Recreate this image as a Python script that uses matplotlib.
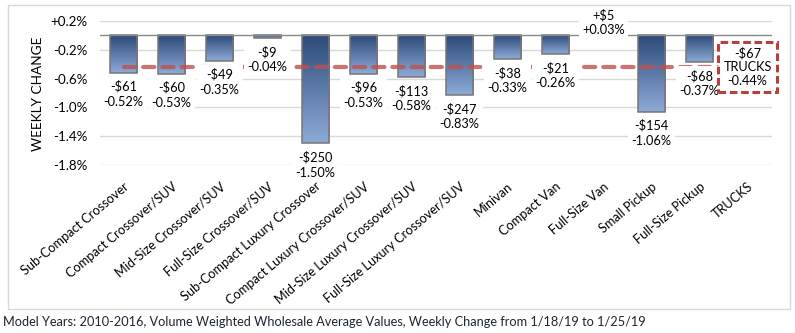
import matplotlib
matplotlib.use("Agg")
import matplotlib.pyplot as plt
from matplotlib.colors import LinearSegmentedColormap
from matplotlib.patches import Rectangle
import numpy as np

plt.rcParams['font.family'] = ['Lato', 'DejaVu Sans']

# segments (bars) and the truck average (dashed line / boxed label)
segments = ['Sub-Compact Crossover', 'Compact Crossover/SUV', 'Mid-Size Crossover/SUV',
            'Full-Size Crossover/SUV', 'Sub-Compact Luxury Crossover',
            'Compact Luxury Crossover/SUV', 'Mid-Size Luxury Crossover/SUV',
            'Full-Size Luxury Crossover/SUV', 'Minivan', 'Compact Van', 'Full-Size Van',
            'Small Pickup', 'Full-Size Pickup']
pct_change = [-0.52, -0.53, -0.35, -0.04, -1.50, -0.53, -0.58, -0.83, -0.33, -0.26, 0.03, -1.06, -0.37]
dollar_change = [-61, -60, -49, -9, -250, -96, -113, -247, -38, -21, 5, -154, -68]

total_label = 'TRUCKS'
total_pct = -0.44
total_dollar = -67

yticks = [0.2, -0.2, -0.6, -1.0, -1.4, -1.8]
ytick_labels = ['+0.2%', '-0.2%', '-0.6%', '-1.0%', '-1.4%', '-1.8%']

footer = ('Model Years: 2010-2016, Volume Weighted Wholesale Average Values, '
          'Weekly Change from 1/18/19 to 1/25/19')

categories = segments + [total_label]
W, H = 795, 333
fig = plt.figure(figsize=(W / 100, H / 100), dpi=100)

# light frame round the chart area
fig.patches.append(Rectangle((8 / W, 1 - 309 / H), 782 / W, 304 / H, transform=fig.transFigure,
                             fill=False, edgecolor='#d9d9d9', lw=1))

ax = fig.add_axes([99.5 / W, 1 - 165 / H, 672 / W, 144 / H])

cmap = LinearSegmentedColormap.from_list('blue', ['#2c4a79', '#8eabd8'])
grad = np.linspace(0, 1, 256).reshape(-1, 1)

x = np.arange(len(segments))
bars = ax.bar(x, pct_change, width=0.58, facecolor='none', edgecolor='#767676', lw=1.1, zorder=3)
for b, v in zip(bars, pct_change):
    x0 = b.get_x()
    im = ax.imshow(grad, cmap=cmap, aspect='auto', origin='upper', zorder=2,
                   extent=[x0, x0 + b.get_width(), min(v, 0), max(v, 0)])
    im.set_clip_path(b)

# trucks average line
ax.plot(np.arange(len(categories)), [total_pct] * len(categories), color='#c0504d', alpha=0.8,
        lw=3, linestyle=(0, (2.7, 1.9)), dash_capstyle='round', zorder=4)

ax.axhline(0, color='#898989', lw=1, zorder=3)

lab_fs = 9.2
box = dict(boxstyle='square,pad=0.25', fc='white', ec='none')
for i, (p, d) in enumerate(zip(pct_change, dollar_change)):
    if p >= 0:
        txt = f'+${d}\n+{p:.2f}%'
        ax.annotate(txt, (i, p), xytext=(0, -2), textcoords='offset points', ha='center',
                    va='bottom', fontsize=lab_fs, linespacing=1.3, bbox=box, zorder=5,
                    annotation_clip=False)
    else:
        txt = f'-${abs(d)}\n{p:.2f}%'
        ax.annotate(txt, (i, p), xytext=(0, -5.5), textcoords='offset points', ha='center',
                    va='top', fontsize=lab_fs, linespacing=1.3, bbox=box, zorder=5)

ax.annotate(f'-${abs(total_dollar)}\n{total_label}\n{total_pct:.2f}%', (len(segments), total_pct),
            ha='center', va='center', fontsize=lab_fs, linespacing=1.15, zorder=6,
            bbox=dict(boxstyle='square,pad=0.4', fc='white', ec='#b8403c', lw=2.2,
                      ls=(0, (2.5, 1.2))))

ax.set_xlim(-0.5, len(categories) - 0.5)
ax.set_ylim(-1.8, 0.2)
ax.set_yticks(yticks)
ax.set_yticklabels(ytick_labels, fontsize=9.6)
ax.set_xticks(np.arange(len(categories)))
ax.set_xticklabels(categories, rotation=40, ha='right', rotation_mode='anchor', fontsize=9.2)
ax.tick_params(axis='both', length=0)
ax.tick_params(axis='y', pad=9)
ax.tick_params(axis='x', pad=11)
ax.grid(axis='y', color='#d9d9d9', lw=1, zorder=0)
ax.set_axisbelow(True)
for s in ax.spines.values():
    s.set_visible(False)

fig.text(38 / W, 1 - 93.5 / H, 'WEEKLY CHANGE', rotation=90, ha='center', va='center', fontsize=9.8)
fig.text(3 / W, 1 - 322 / H, footer, ha='left', va='center', fontsize=9.2, color='#1e2633')

fig.savefig('out.png', dpi=100)
